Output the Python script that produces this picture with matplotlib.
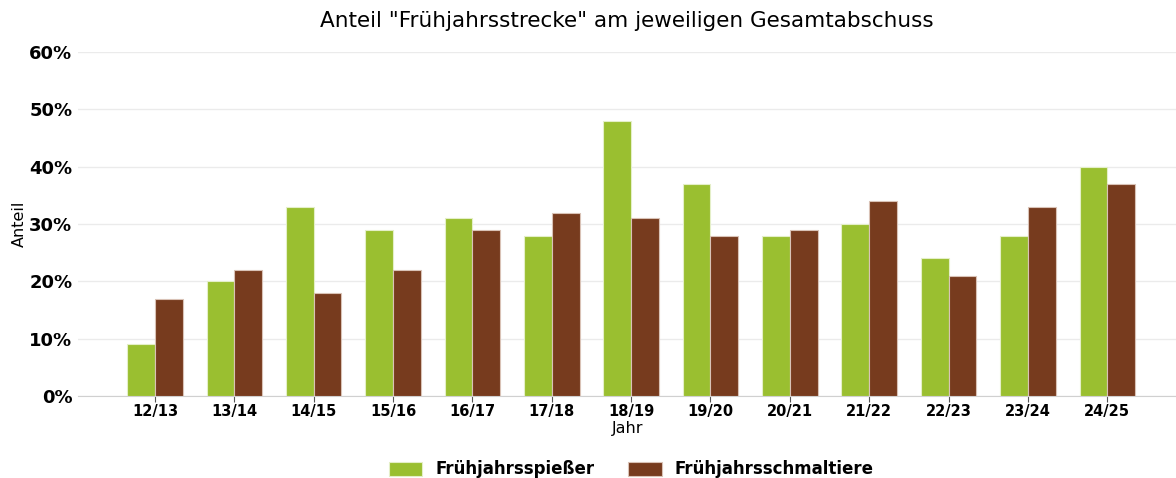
import numpy as np
import matplotlib.pyplot as plt
from matplotlib.ticker import PercentFormatter

# Data
seasons = ['12/13', '13/14', '14/15', '15/16', '16/17', '17/18', '18/19',
           '19/20', '20/21', '21/22', '22/23', '23/24', '24/25']
spiesser = [0.09, 0.20, 0.33, 0.29, 0.31, 0.28, 0.48, 0.37, 0.28, 0.30, 0.24, 0.28, 0.40]
schmaltiere = [0.17, 0.22, 0.18, 0.22, 0.29, 0.32, 0.31, 0.28, 0.29, 0.34, 0.21, 0.33, 0.37]

green = '#9abf30'
brown = '#773b1e'

fig = plt.figure(figsize=(11.76, 4.78), dpi=100)
ax = fig.add_axes([0.0663, 0.1715, 0.934, 0.7195])

x = np.arange(len(seasons))
w = 0.35
ax.bar(x - w / 2, spiesser, w, color=green, edgecolor='#e4efc8', linewidth=0.8,
       label='Frühjahrsspießer', zorder=3)
ax.bar(x + w / 2, schmaltiere, w, color=brown, edgecolor='#d9c2b6', linewidth=0.8,
       label='Frühjahrsschmaltiere', zorder=3)

ax.set_xlim(-0.97, 12.87)
ax.set_ylim(0, 0.6)
ax.set_yticks(np.arange(0, 0.61, 0.1))
ax.yaxis.set_major_formatter(PercentFormatter(1.0, decimals=0))
ax.set_xticks(x)
ax.set_xticklabels(seasons)

ax.grid(axis='y', color='#ebebeb', linewidth=1, zorder=0)
for s in ['top', 'right', 'left']:
    ax.spines[s].set_visible(False)
ax.spines['bottom'].set_color('#d0d0d0')
ax.tick_params(axis='y', length=0, labelsize=13, pad=4)
ax.tick_params(axis='x', length=4, color='#555555', labelsize=10.5, pad=2)
for lab in ax.get_yticklabels() + ax.get_xticklabels():
    lab.set_fontweight('bold')

ax.set_xlabel('Jahr', fontsize=11.5, labelpad=1)
ax.set_ylabel('Anteil', fontsize=11.5, labelpad=2)
ax.set_title('Anteil "Frühjahrsstrecke" am jeweiligen Gesamtabschuss', fontsize=15.5, pad=18)

fig.legend(loc='center', bbox_to_anchor=(0.537, 0.018), ncol=2, frameon=False,
           prop={'weight': 'bold', 'size': 12}, handlelength=2.0, handleheight=0.9,
           columnspacing=2.0)

fig.savefig('out.png', dpi=100)
